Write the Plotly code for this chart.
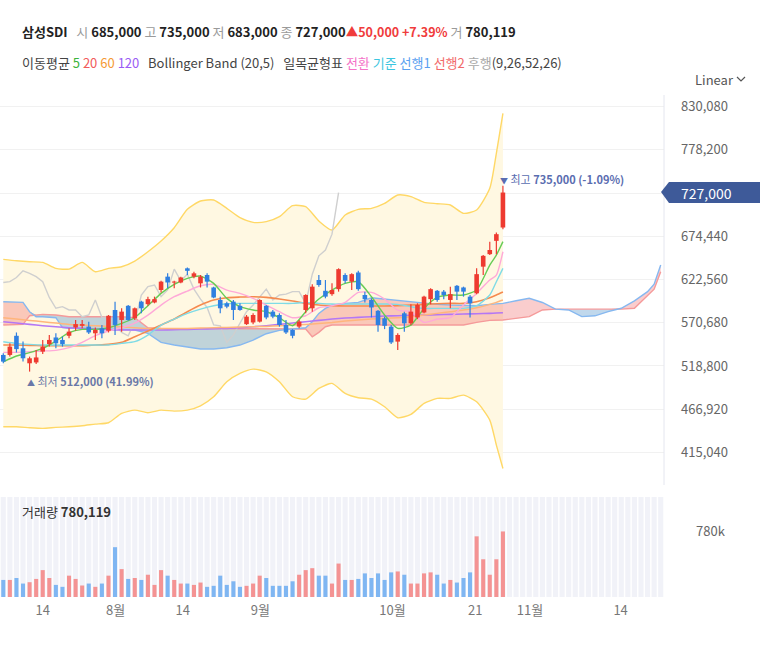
import plotly.graph_objects as go

# ---------------- data (prices in thousand KRW) ----------------
day_idx = list(range(77))
opens = [532,532,555,540,522,523,536,545,553,550,
         555,565,567,566,558,564,561,586,574,591,
         576,596,593,595,610,626,619,619,636,626,
         618,628,613,598,594,596,591,569,571,572,
         591,584,580,568,562,566,586,588,622,609,
         605,611,628,620,631,604,598,585,576,566,
         548,582,570,577,583,599,609,608,598,615,
         613,602,606,638,653,669,685]
highs = [534,546,559,548,530,538,550,556,558,554,
         564,574,574,572,565,568,580,596,588,592,
         589,597,602,602,621,630,621,626,637,632,
         628,630,614,602,596,598,594,580,582,599,
         592,586,582,574,563,574,605,617,628,622,
         618,636,630,630,633,608,600,586,578,568,
         558,584,593,594,603,612,610,610,614,616,
         614,604,636,652,668,679,735]
lows = [522,530,535,524,512,521,533,542,540,542,
        552,561,564,557,550,552,559,556,560,573,
        574,582,591,594,607,612,612,618,628,624,
        613,613,600,582,588,574,585,568,569,571,
        575,576,566,557,552,564,582,584,614,600,
        603,608,618,610,609,595,577,560,563,545,
        538,560,568,575,582,593,596,599,588,598,
        602,577,605,628,652,653,683]
closes = [524,542,539,528,528,529,542,550,546,545,
          560,569,569,559,562,558,579,568,584,574,
          588,588,599,599,620,619,620,625,633,630,
          626,620,601,588,590,586,586,578,580,598,
          577,578,568,559,555,572,604,614,616,602,
          610,635,621,629,611,599,589,568,567,547,
          556,570,584,592,602,611,598,604,605,608,
          608,594,629,651,658,677,727]
volumes_k = [203,203,226,160,176,215,320,226,144,121,
             254,215,137,160,121,160,254,593,332,215,
             226,203,265,144,320,254,203,160,160,144,
             172,121,133,254,144,187,121,133,160,254,
             226,133,133,133,187,265,320,343,254,254,
             160,398,203,203,215,281,226,281,203,293,
             304,265,160,160,281,293,265,160,203,172,
             226,293,722,449,265,449,780.119]

# indicator lines sampled on this index grid
ind_idx = [0,2,4,6,8,10,12,14,16,18,20,22,24,26,28,30,32,34,36,38,
           40,42,44,46,48,50,52,54,56,58,60,62,64,66,68,70,72,74,75,76]
bb_upper = [646.7,645.1,643.9,643.1,635.9,635.1,643.1,631.9,635.9,637.9,
            644.7,655.9,668.8,684.8,706.8,716.8,718.0,708.0,696.8,691.2,
            692.0,698.0,711.2,710.0,692.8,682.0,700.0,706.8,708.0,714.0,
            724.0,722.0,715.2,713.6,712.0,702.0,706.0,732.0,774.1,822.1]
bb_lower = [445.8,445.8,444.6,443.8,445.0,445.8,447.0,449.0,450.6,461.8,
            465.8,462.6,465.8,464.6,465.8,471.0,481.8,499.8,509.8,515.0,
            511.8,499.8,481.8,479.0,491.8,497.8,485.8,480.6,479.0,469.8,
            456.6,460.6,473.8,479.8,479.8,483.8,475.8,453.8,423.8,395.7]
ma5 = [523.8,530.7,534.7,539.9,548.7,558.7,562.7,562.7,564.7,569.9,
       576.7,591.1,605.9,616.7,623.9,626.7,617.9,599.9,589.9,585.9,
       583.9,576.7,567.1,583.9,599.1,609.9,617.9,619.9,601.9,579.9,
       563.9,567.9,587.9,601.1,603.9,603.9,609.9,639.9,651.9,668.0]
ma20 = [543.9,543.9,543.5,543.1,543.1,543.1,543.1,543.9,544.7,547.1,
        553.9,560.7,567.9,575.1,583.9,591.9,597.9,600.7,601.5,601.9,
        601.1,599.1,596.7,593.9,591.9,591.1,590.7,590.7,590.7,590.7,
        591.1,591.9,592.7,593.5,593.9,593.9,595.9,600.7,603.9,607.5]
ma60 = [576.7,575.1,573.5,571.9,570.3,568.7,567.9,567.1,566.3,565.5,
        564.7,563.9,563.9,563.9,563.9,564.3,564.7,565.1,565.5,565.9,
        566.3,567.1,567.9,568.7,569.9,571.1,572.7,573.9,575.1,575.9,
        576.7,577.9,579.9,581.9,583.9,585.9,588.7,592.7,595.1,597.9]
ma120 = [571.9,570.3,568.7,567.1,565.9,564.7,563.9,563.1,562.3,561.9,
         561.9,561.9,561.9,562.3,562.7,563.1,563.5,563.9,564.7,565.9,
         567.1,568.7,570.3,571.9,573.5,575.1,576.3,577.1,577.9,578.7,
         579.1,579.5,579.9,580.3,580.7,581.1,581.5,581.9,582.3,582.7]
conversion = [535.1,535.1,535.9,536.7,537.5,540.7,547.1,555.1,560.7,564.7,
              570.3,579.9,591.9,601.9,608.7,615.1,616.7,609.9,605.9,599.9,
              591.9,583.9,576.7,579.1,588.7,591.1,595.1,607.1,607.1,599.1,
              585.9,583.9,571.1,575.1,576.7,591.9,605.9,621.9,627.9,655.9]
base_line = [547.9,545.9,544.7,543.9,543.9,543.9,543.9,543.9,543.9,545.9,
             547.9,555.9,567.9,575.1,581.9,587.1,591.1,593.5,593.9,593.9,
             593.9,593.9,593.9,595.1,593.9,593.1,593.1,593.1,593.1,593.1,
             592.7,589.9,587.9,587.9,587.9,587.9,591.1,603.9,619.9,635.9]

cloud_idx = [0,2,3,4,5,6,8,9,10,12,14,16,18,20,22,24,26,28,30,32,34,36,38,40,
             42,44,46,47,48,49,50,52,54,56,58,60,62,64,66,68,70,72,74,76,
             78,80,82,84,86,88,90,92,94,96,98,99,100]
span1 = [595.9,595.9,595.1,583.9,577.9,577.9,576.7,564.7,563.9,563.9,563.5,563.1,
         562.7,561.9,557.9,547.1,543.9,541.9,539.1,539.1,540.7,543.9,549.9,557.5,
         561.5,563.1,564.7,571.9,581.9,587.9,591.9,593.9,595.1,600.7,599.1,596.7,
         595.1,593.9,592.7,591.9,591.1,591.1,592.7,593.9,
         597,600,595,587,586,578,579,584,588,597,608,617,640]
span2 = [567.9,567.9,568.7,579.1,579.9,580.7,579.9,578.7,577.9,577.9,577.9,577.9,
         577.9,576.7,564.7,563.9,563.9,563.9,563.9,563.9,563.9,563.9,563.5,563.5,
         563.1,563.1,563.1,553.9,559.1,565.9,567.9,567.9,567.9,567.9,567.9,567.9,
         567.9,567.9,567.9,567.9,567.9,571.1,573.5,573.9,
         576,578,586,587,587,587,587,587,587,588,603,611,632]

tick_pos = [6, 17.1, 27.3, 39.1, 59.2, 71.8, 80.1, 93.9]
tick_text = ["14", "8월", "14", "9월", "10월", "21", "11월", "14"]
price_ticks = [415040, 466920, 518800, 570680, 622560, 674440, 726320, 778200, 830080]
future_slots = list(range(101))

K = 1000
def k(v):
    return [x * K for x in v]

# ---------------- layout helpers ----------------
W, H = 773, 646
PL, PR, PT, PB = 0, 664, 95, 597
def px(x):
    return (x - PL) / (PR - PL)
def py(y):
    return (PB - y) / (PB - PT)

UP = "#ee3a30"
DOWN = "#2f7fe0"
FONT = "Noto Sans CJK KR, Noto Sans, sans-serif"

fig = go.Figure()

# Bollinger band fill
fig.add_trace(go.Scatter(x=ind_idx, y=k(bb_lower), mode="lines",
                         line=dict(color="#ffd866", width=1.4, shape="spline", smoothing=0.6),
                         hoverinfo="skip"))
fig.add_trace(go.Scatter(x=ind_idx, y=k(bb_upper), mode="lines", fill="tonexty",
                         fillcolor="#fff8e2",
                         line=dict(color="#ffd866", width=1.4, shape="spline", smoothing=0.6),
                         hoverinfo="skip"))

# Ichimoku cloud
top = [max(a, b) for a, b in zip(span1, span2)]
fig.add_trace(go.Scatter(x=cloud_idx, y=k(span2), mode="lines", line=dict(width=0), hoverinfo="skip"))
fig.add_trace(go.Scatter(x=cloud_idx, y=k(top), mode="lines", line=dict(width=0), fill="tonexty",
                         fillcolor="rgba(240,100,100,0.32)", hoverinfo="skip"))
fig.add_trace(go.Scatter(x=cloud_idx, y=k(span1), mode="lines", line=dict(width=0), hoverinfo="skip"))
fig.add_trace(go.Scatter(x=cloud_idx, y=k(top), mode="lines", line=dict(width=0), fill="tonexty",
                         fillcolor="rgba(70,140,200,0.34)", hoverinfo="skip"))
fig.add_trace(go.Scatter(x=cloud_idx, y=k(span2), mode="lines",
                         line=dict(color="#f59a9a", width=1.4), hoverinfo="skip"))
fig.add_trace(go.Scatter(x=cloud_idx, y=k(span1), mode="lines",
                         line=dict(color="#86b8f0", width=1.4), hoverinfo="skip"))

# lagging span
fig.add_trace(go.Scatter(x=[i - 25 for i in day_idx[25:]], y=k(closes[25:]), mode="lines",
                         line=dict(color="#cfcfcf", width=1.4), hoverinfo="skip"))

# moving averages and ichimoku lines
for arr, col, wd in [(ma120, "#b477f5", 1.6), (ma60, "#ffb57c", 1.5), (ma20, "#f58a4e", 1.6),
                     (base_line, "#7fdbe6", 1.4), (conversion, "#ffa9d8", 1.4), (ma5, "#66cc55", 1.4)]:
    fig.add_trace(go.Scatter(x=ind_idx, y=k(arr), mode="lines",
                             line=dict(color=col, width=wd, shape="spline", smoothing=0.6),
                             hoverinfo="skip"))

# candles drawn as line segments (wick + body), split by direction
for is_up, col in [(True, UP), (False, DOWN)]:
    wx, wy, bx, by = [], [], [], []
    for i, o, h, l, cl in zip(day_idx, opens, highs, lows, closes):
        if (cl >= o) != is_up:
            continue
        wx += [i, i, None]
        wy += [l * K, h * K, None]
        lo, hi = min(o, cl), max(o, cl)
        if hi - lo < 1.2:
            mid = (hi + lo) / 2
            lo, hi = mid - 0.6, mid + 0.6
        bx += [i, i, None]
        by += [lo * K, hi * K, None]
    fig.add_trace(go.Scatter(x=wx, y=wy, mode="lines", line=dict(color=col, width=1.2),
                             hoverinfo="skip"))
    fig.add_trace(go.Scatter(x=bx, y=by, mode="lines", line=dict(color=col, width=4.6),
                             hoverinfo="skip"))

# volume panel background stripes + bars
VOL_TOP = 1190000
fig.add_trace(go.Bar(x=future_slots, y=[VOL_TOP] * len(future_slots), width=0.78,
                     marker=dict(color="#f1f2f8", line=dict(width=0)),
                     xaxis="x2", yaxis="y2", hoverinfo="skip"))
vol_colors = ["#f49393" if c >= o else "#7fb6f2" for o, c in zip(opens, closes)]
fig.add_trace(go.Bar(x=day_idx, y=[v * K for v in volumes_k], width=0.62,
                     marker=dict(color=vol_colors, line=dict(width=0)),
                     xaxis="x2", yaxis="y2", hoverinfo="skip"))

fig.update_layout(
    width=W, height=H, showlegend=False, barmode="overlay",
    margin=dict(l=PL, r=W - PR, t=PT, b=H - PB),
    paper_bgcolor="white", plot_bgcolor="white",
    font=dict(family=FONT, color="#666", size=13),
    xaxis=dict(domain=[0, 1], range=[-0.5, 100.5], anchor="y",
               showticklabels=False, showgrid=False, zeroline=False, fixedrange=True),
    yaxis=dict(domain=[py(485), 1], range=[375860, 844090], side="right",
               tickvals=price_ticks,
               ticktext=[f"{v:,}" if v != 726320 else "" for v in price_ticks],
               showgrid=True, gridcolor="#f1f1f1", gridwidth=1, zeroline=False,
               ticks="", ticklabelstandoff=16, tickfont=dict(size=13, color="#666")),
    xaxis2=dict(domain=[0, 1], range=[-0.5, 100.5], anchor="y2",
                tickvals=tick_pos, ticktext=tick_text, ticks="", showgrid=False,
                zeroline=False, showline=False, tickfont=dict(size=13, color="#777"),
                ticklabelstandoff=4),
    yaxis2=dict(domain=[0, py(497)], range=[0, VOL_TOP], side="right",
                tickvals=[780119], ticktext=["780k"], showgrid=False, zeroline=False,
                ticks="", ticklabelstandoff=31, tickfont=dict(size=13, color="#666")),
)

# right border line of price panel
fig.add_shape(type="line", xref="paper", yref="paper", x0=1, x1=1, y0=py(485), y1=1,
              line=dict(color="#e4e6ef", width=1))

# current price tag
fig.add_shape(type="path", xref="paper", yref="paper",
              path=(f"M {px(661)} {py(192)} L {px(669)} {py(182)} L {px(760)} {py(182)} "
                    f"L {px(760)} {py(203)} L {px(669)} {py(203)} Z"),
              fillcolor="#3e5a99", line=dict(width=0))
fig.add_annotation(xref="paper", yref="paper", x=px(679), y=py(192.5), xanchor="left", yanchor="middle",
                   text="727,000", showarrow=False,
                   font=dict(family=FONT, size=14, color="white"))

# high / low markers
fig.add_annotation(x=76, y=743000, xref="x", yref="y", xanchor="left", yanchor="middle",
                   xshift=-5, showarrow=False,
                   text="<span style='font-size:8px'>▼</span> 최고 <b>735,000 (-1.09%)</b>",
                   font=dict(family=FONT, size=11, color="#5a6db0"))
fig.add_annotation(x=4, y=500400, xref="x", yref="y", xanchor="left", yanchor="middle",
                   xshift=-5, showarrow=False,
                   text="<span style='font-size:8px'>▲</span> 최저 <b>512,000 (41.99%)</b>",
                   font=dict(family=FONT, size=11, color="#6a78a8"))

# header line 1
g = "<span style='color:#9a9a9a'>{}</span>"
hdr1 = ("<b>삼성SDI</b>   " + g.format("시") + " <b>685,000</b> " + g.format("고") + " <b>735,000</b> "
        + g.format("저") + " <b>683,000</b> " + g.format("종") + " <b>727,000</b>"
        + "<span style='color:#f03c3c;font-size:12.5px'><b>▲50,000 +7.39%</b></span> "
        + g.format("거") + " <b>780,119</b>")
fig.add_annotation(xref="paper", yref="paper", x=px(20), y=py(32), xanchor="left", yanchor="middle",
                   showarrow=False, text=hdr1, font=dict(family=FONT, size=13, color="#222"))

# header line 2 (legend)
def c(t, col):
    return f"<span style='color:{col}'>{t}</span>"
hdr2 = ("이동평균 " + c("5", "#3cb43c") + " " + c("20", "#f25a5a") + " " + c("60", "#f59a35") + " "
        + c("120", "#9a5cf5") + "   Bollinger Band (20,5)   일목균형표 "
        + c("전환", "#f472c8") + " " + c("기준", "#3cc6e0") + " " + c("선행1", "#5a9ff0") + " "
        + c("선행2", "#f26a6a") + " " + c("후행", "#a8a8a8") + "(9,26,52,26)")
fig.add_annotation(xref="paper", yref="paper", x=px(20), y=py(62), xanchor="left", yanchor="middle",
                   showarrow=False, text=hdr2, font=dict(family=FONT, size=13, color="#444"))

# Linear selector
fig.add_annotation(xref="paper", yref="paper", x=px(693), y=py(79), xanchor="left", yanchor="middle",
                   showarrow=False, text="Linear", font=dict(family=FONT, size=13, color="#555"))
fig.add_shape(type="path", xref="paper", yref="paper",
              path=f"M {px(737)} {py(77)} L {px(741)} {py(81)} L {px(745)} {py(77)}",
              line=dict(color="#555", width=1.2))

# volume label
fig.add_annotation(xref="paper", yref="paper", x=px(20), y=py(511), xanchor="left", yanchor="middle",
                   showarrow=False, text="거래량 <b>780,119</b>",
                   font=dict(family=FONT, size=13, color="#333"))

fig.write_html("out.html")
